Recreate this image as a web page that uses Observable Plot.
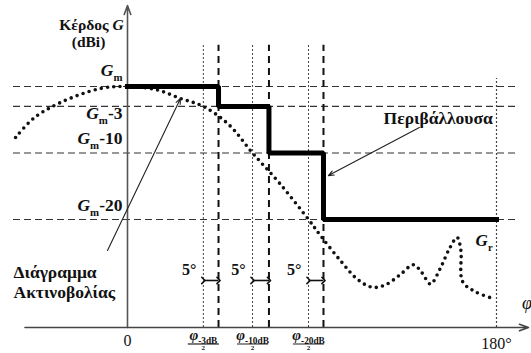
<!DOCTYPE html>
<html>
<head>
<meta charset="utf-8">
<script src="https://cdn.jsdelivr.net/npm/d3@7"></script>
<script src="https://cdn.jsdelivr.net/npm/@observablehq/plot@0.6"></script>
<style>
  html, body { margin: 0; padding: 0; background: #fff; }
  #chart svg { display: block; }
  #chart svg text { font-family: "Liberation Serif", "DejaVu Serif", serif; }
</style>
</head>
<body>
<div id="chart"></div>
<script>
// ---- data (x in degrees φ, y in dB relative to Gm) ----
const levels = [0, -3, -10, -20];
const levelLabels = ["*G*_{m}", "*G*_{m}-3", "*G*_{m}-10", "*G*_{m}-20"];
const levelLabelY = [2.4, -4.1, -7.8, -17.9];
const halfBeam = [37, 61, 88.3];          // φ/2 where pattern crosses each level (dotted)
const envelopeEdge = [44.4, 69, 95.6];    // φ/2 + 5° (dashed, envelope steps)
const phiLabels = ["*φ*_{-3dB}", "*φ*_{-10dB}", "*φ*_{-20dB}"];
const marginLabels = ["5°", "5°", "5°"];
const envelopeX = [0, 44.4, 69, 95.6, 180];
const envelopeY = [0, -3, -10, -20, -20];
const patternDeg = [-54.6, -45.9, -32.7, -13.2, 0, 13.7, 25.9, 37, 49.3, 61, 74.6, 88.3, 94.1, 103.9, 112.2, 119.5, 126, 133, 139.5, 143.6, 147.8, 152.5, 157, 160.8, 162.6, 163.4, 169.3, 178.5];
const patternDb  = [-7.67, -4.81, -2.41, -0.3, 0, -0.45, -1.8, -3, -5.7, -10, -14.7, -20, -22.4, -26.2, -29.0, -30.2, -29.8, -28.3, -26.8, -28.0, -29.7, -27.4, -24.4, -22.7, -24.6, -29.3, -30.8, -31.9];
const xTicks = [0, 180];
const xTickLabels = ["0", "180°"];
const gridSpan = [-55.6, 190.2];
const guideTop = 6.2;
const lastGuideTop = 1.2;
const xAxisSpan = [-50, 195.6];

const xDomain = [-61.95, 197.07];
const yDomain = [-36.24, 12.18];
const yBottom = yDomain[0];

const serif = "Liberation Serif";

const rows = (xs, ys) => xs.map((x, i) => ({x, y: ys[i]}));

const plot = Plot.plot({
  width: 531, height: 353,
  marginLeft: 0, marginRight: 0, marginTop: 5, marginBottom: 26,
  x: {domain: xDomain, axis: null},
  y: {domain: yDomain, axis: null},
  style: {background: "#fff", overflow: "hidden", color: "#111"},
  marks: [
    // horizontal dashed level lines
    Plot.ruleY(levels, {y: d => d, x1: gridSpan[0], x2: gridSpan[1], stroke: "#333", strokeWidth: 1.2, strokeDasharray: "7 4"}),
    // dotted half-beam guides
    Plot.ruleX(halfBeam, {x: d => d, y1: yBottom, y2: guideTop, stroke: "#444", strokeWidth: 1, strokeDasharray: "2 2"}),
    // 180° dotted guide
    Plot.ruleX([xTicks[1]], {x: d => d, y1: yBottom, y2: lastGuideTop, stroke: "#444", strokeWidth: 1.2, strokeDasharray: "2 2"}),
    // dashed envelope guides
    Plot.ruleX(envelopeEdge, {x: d => d, y1: yBottom, y2: guideTop, stroke: "#111", strokeWidth: 2, strokeDasharray: "7 5"}),
    // axes
    Plot.arrow([0], {x1: d => d, x2: d => d, y1: yBottom, y2: yDomain[1], stroke: "#555", strokeWidth: 1.6, headLength: 9, headAngle: 40}),
    Plot.arrow([yBottom], {x1: xAxisSpan[0], x2: xAxisSpan[1], y1: d => d, y2: d => d, stroke: "#444", strokeWidth: 1.6, headLength: 9, headAngle: 40}),
    // radiation pattern (dotted)
    Plot.line(rows(patternDeg, patternDb), {x: "x", y: "y", curve: "catmull-rom", stroke: "#111", strokeWidth: 3.6, strokeDasharray: "0 6.3", strokeLinecap: "round"}),
    // envelope
    Plot.line(rows(envelopeX, envelopeY), {x: "x", y: "y", curve: "step-after", stroke: "#000", strokeWidth: 5, strokeLinejoin: "miter", strokeLinecap: "square"}),
    // 5° dimension arrows
    Plot.link(halfBeam, {x1: d => d, x2: (d, i) => envelopeEdge[i], y1: -29.17, y2: -29.17, stroke: "#111", strokeWidth: 1.6, markerStart: "arrow", markerEnd: "arrow"}),
    Plot.text(halfBeam, {x: d => d, y: -27.6, text: (d, i) => marginLabels[i], textAnchor: "end", dx: -7, fontSize: 16, fontWeight: "bold", fontFamily: serif}),
    // pointer arrows
    Plot.arrow([{x1: 142.4, y1: -6.17, x2: 98.0, y2: -13.4}], {x1: "x1", y1: "y1", x2: "x2", y2: "y2", stroke: "#222", strokeWidth: 1.1, headLength: 8, headAngle: 45}),
    Plot.arrow([{x1: -9.76, y1: -24.66, x2: 25.85, y2: -1.8}], {x1: "x1", y1: "y1", x2: "x2", y2: "y2", stroke: "#222", strokeWidth: 1.1, headLength: 8, headAngle: 45}),
    // level labels
    Plot.text(levelLabels, {x: -2.44, y: (d, i) => levelLabelY[i], text: d => d, textAnchor: "end", fontSize: 17.5, fontWeight: "bold", fontFamily: serif}),
    // y-axis title
    Plot.text(["Κέρδος *G*", "(dBi)"], {x: [-17.56, -19.0], y: [9.17, 6.62], text: d => d, fontSize: 15.5, fontWeight: "bold", fontFamily: serif}),
    // annotations
    Plot.text(["Περιβάλλουσα"], {x: 124.9, y: -4.81, text: d => d, textAnchor: "start", fontSize: 17.5, fontWeight: "bold", fontFamily: serif}),
    Plot.text(["*G*_{r}"], {x: 169.8, y: -23.16, text: d => d, textAnchor: "start", fontSize: 17, fontWeight: "bold", fontFamily: serif}),
    Plot.text(["Διάγραμμα", "Ακτινοβολίας"], {x: -55.6, y: [-27.97, -30.98], text: d => d, textAnchor: "start", fontSize: 17.5, fontWeight: "bold", fontFamily: serif}),
    // x tick labels
    Plot.text(xTicks, {x: d => d, y: [-38.2, -38.65], text: (d, i) => xTickLabels[i], fontSize: 16, fontFamily: serif}),
    Plot.text(["*φ*"], {x: 192.4, y: -32.6, text: d => d, textAnchor: "start", fontSize: 18, fontFamily: serif}),
    // φ/2 fraction labels
    Plot.text(halfBeam, {x: d => d, y: -37.35, text: (d, i) => phiLabels[i], fontSize: 15, fontWeight: "bold", fontFamily: serif}),
    Plot.link(halfBeam, {x1: d => d - 7.6, x2: d => d + 7.6, y1: -38.72, y2: -38.72, stroke: "#222", strokeWidth: 1.2}),
    Plot.text(halfBeam, {x: d => d, y: -39.35, text: () => "2", fontSize: 7, fontWeight: "bold", fontFamily: serif})
  ]
});

// rich text: *x* = italic, _{x} = subscript
function richify(svg) {
  d3.select(svg).selectAll("text").each(function () {
    const s = this.textContent;
    if (!/[*]|_\{/.test(s)) return;
    const holder = this.closest("[font-size]");
    const fs = holder ? parseFloat(holder.getAttribute("font-size")) : 15;
    const sh = fs * 0.28;
    const parts = s.split(/(\*[^*]+\*|_\{[^}]+\})/).filter(p => p);
    this.textContent = "";
    let shifted = false;
    for (const p of parts) {
      const ts = d3.select(this).append("tspan");
      if (p.startsWith("_{")) {
        ts.text(p.slice(2, -1)).attr("font-size", fs * 0.62).attr("dy", sh);
        shifted = true;
      } else {
        if (p.startsWith("*")) ts.text(p.slice(1, -1)).attr("font-style", "italic");
        else ts.text(p);
        if (shifted) { ts.attr("dy", -sh); shifted = false; }
      }
    }
  });
}
richify(plot);
document.getElementById("chart").appendChild(plot);
</script>
</body>
</html>
